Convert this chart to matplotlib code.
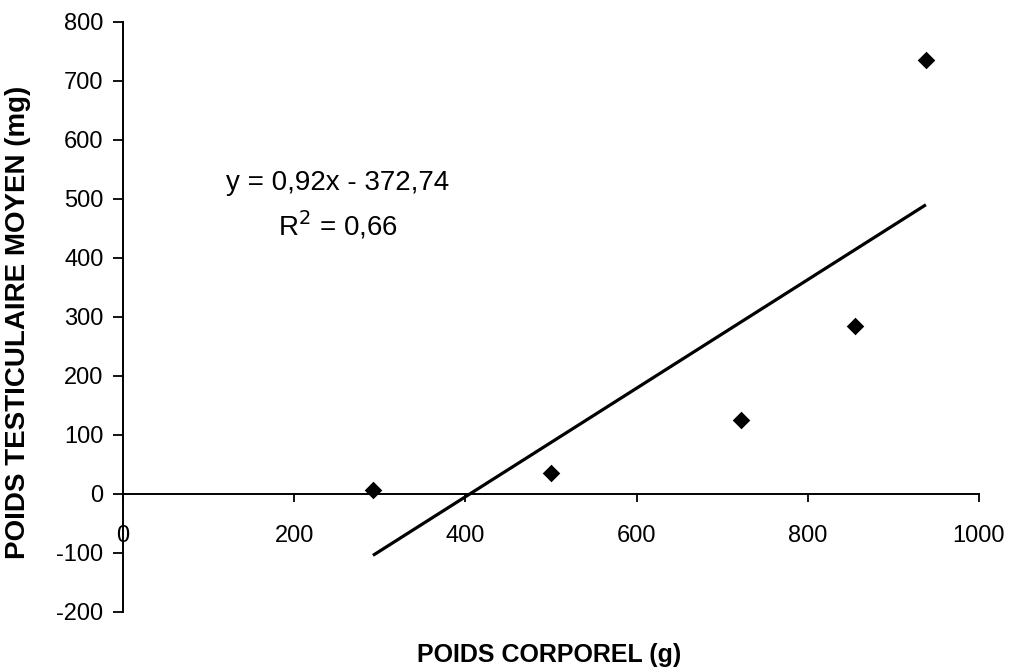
import matplotlib
matplotlib.use("Agg")
import matplotlib.pyplot as plt
import numpy as np

plt.rcParams['font.family'] = ['Liberation Sans', 'DejaVu Sans']
plt.rcParams['axes.unicode_minus'] = False

# Data
body_weight = [292, 500, 722, 855, 938]          # POIDS CORPOREL (g)
testis_weight = [6, 36, 125, 284, 736]           # POIDS TESTICULAIRE MOYEN (mg)
slope = 0.92
intercept = -372.74
eq_text = "y = 0,92x - 372,74"
r2_text = "R$^2$ = 0,66"
x_ticks = [0, 200, 400, 600, 800, 1000]
y_ticks = [-200, -100, 0, 100, 200, 300, 400, 500, 600, 700, 800]

fig = plt.figure(figsize=(10.13, 6.72), dpi=100)
ax = fig.add_axes([0.1214, 0.0893, 0.845, 0.878])

ax.scatter(body_weight, testis_weight, marker='D', s=80, color='black',
           linewidths=0, zorder=3)
xf = np.array([min(body_weight), max(body_weight)])
ax.plot(xf, slope * xf + intercept, color='black', lw=2.3, zorder=2,
        solid_capstyle='butt')

ax.set_xlim(0, 1000)
ax.set_ylim(-200, 800)
ax.set_xticks(x_ticks)
ax.set_yticks(y_ticks)

ax.spines['top'].set_visible(False)
ax.spines['right'].set_visible(False)
ax.spines['bottom'].set_position(('data', 0))
for s in ['left', 'bottom']:
    ax.spines[s].set_linewidth(1.4)
    ax.spines[s].set_color('black')

ax.tick_params(axis='x', direction='out', length=6, width=1.3, pad=16, labelsize=17)
ax.tick_params(axis='y', direction='out', length=7, width=1.3, pad=7, labelsize=17)

ax.text(251, 527, eq_text, fontsize=20, ha='center', va='center')
ax.text(251, 456, r2_text, fontsize=20, ha='center', va='center')

fig.text(0.542, 1 - 655 / 672, "POIDS CORPOREL (g)", fontsize=18, fontweight='bold',
         ha='center', va='center')
fig.text(0.018, 1 - 322 / 672, "POIDS TESTICULAIRE MOYEN (mg)", fontsize=20,
         fontweight='bold', ha='center', va='center', rotation=90)

fig.savefig("out.png", dpi=100)
